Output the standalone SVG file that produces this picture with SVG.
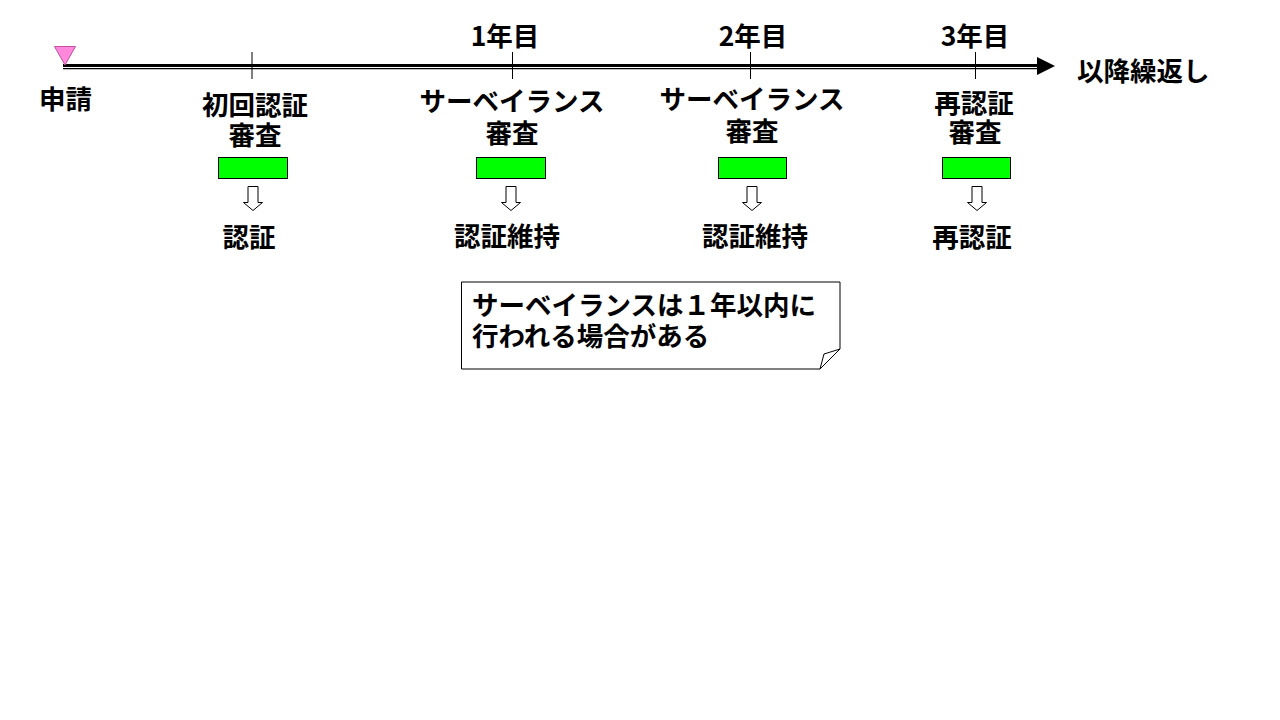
<svg xmlns="http://www.w3.org/2000/svg" width="1280" height="720" viewBox="0 0 1280 720">
<style>
.t{font-family:"Noto Sans CJK JP","Noto Sans",sans-serif;font-weight:bold;font-size:26.5px;fill:#000}
.m{text-anchor:middle}
.g{fill:#00ff00;stroke:#000;stroke-width:1}
.a{fill:#fff;stroke:#000;stroke-width:1}
.tick{stroke:#000;stroke-width:1}
</style>
<rect width="1280" height="720" fill="#fff"/>
<g id="connectors">
<line x1="63" y1="65.5" x2="1040" y2="65.5" stroke="#000" stroke-width="3"/>
<line x1="63" y1="68.7" x2="1040" y2="68.7" stroke="#000" stroke-width="1.2"/>
<polygon points="1037,57 1055,66 1037,75" fill="#000"/>
<line class="tick" x1="252" y1="52" x2="252" y2="79"/>
<line class="tick" x1="512.5" y1="52" x2="512.5" y2="79"/>
<line class="tick" x1="750.5" y1="52" x2="750.5" y2="79"/>
<line class="tick" x1="975.5" y1="52" x2="975.5" y2="79"/>
</g>
<g id="start">
<polygon points="54.5,46.5 75.5,46.5 65,65" fill="#ff88dd" stroke="#c050a0" stroke-width="1"/>
<text class="t" x="39" y="109">申請</text>
</g>
<g id="year-labels">
<text class="t m" x="505" y="46">1年目</text>
<text class="t m" x="753" y="46">2年目</text>
<text class="t m" x="975" y="46">3年目</text>
<text class="t" x="1077" y="81">以降繰返し</text>
</g>
<g id="initial">
<text class="t m" x="255" y="115">初回認証</text>
<text class="t m" x="255" y="145">審査</text>
<rect class="g" x="218.5" y="157.5" width="69" height="21"/>
<path class="a" d="M248,186.5 H258 V202.5 H262.5 L253,210.5 L243.5,202.5 H248 Z"/>
<text class="t m" x="249" y="247">認証</text>
</g>
<g id="surveillance1">
<text class="t m" x="512" y="111">サーベイランス</text>
<text class="t m" x="512" y="143">審査</text>
<rect class="g" x="476.5" y="157.5" width="69" height="21"/>
<path class="a" d="M506,186.5 H516 V202.5 H520.5 L511,210.5 L501.5,202.5 H506 Z"/>
<text class="t m" x="507" y="246">認証維持</text>
</g>
<g id="surveillance2">
<text class="t m" x="752" y="109">サーベイランス</text>
<text class="t m" x="752" y="141">審査</text>
<rect class="g" x="718.5" y="157.5" width="68" height="21"/>
<path class="a" d="M747,186.5 H757 V202.5 H761.5 L752,210.5 L742.5,202.5 H747 Z"/>
<text class="t m" x="755" y="246">認証維持</text>
</g>
<g id="recert">
<text class="t m" x="974" y="113">再認証</text>
<text class="t m" x="975" y="142">審査</text>
<rect class="g" x="942.5" y="157.5" width="68" height="21"/>
<path class="a" d="M972,186.5 H982 V202.5 H986.5 L977,210.5 L967.5,202.5 H972 Z"/>
<text class="t m" x="972" y="247">再認証</text>
</g>
<g id="note">
<path d="M461.5,282 H840 V349 L820,369 H461.5 Z" fill="#fff" stroke="#000" stroke-width="1"/>
<line x1="820" y1="369" x2="840" y2="349" stroke="#888" stroke-width="1"/>
<polygon points="820,369 824,354 840,349" fill="#fff" stroke="#000" stroke-width="1"/>
<text class="t" x="472" y="315">サーベイランスは１年以内に</text>
<text class="t" x="472" y="346">行われる場合がある</text>
</g>
</svg>
